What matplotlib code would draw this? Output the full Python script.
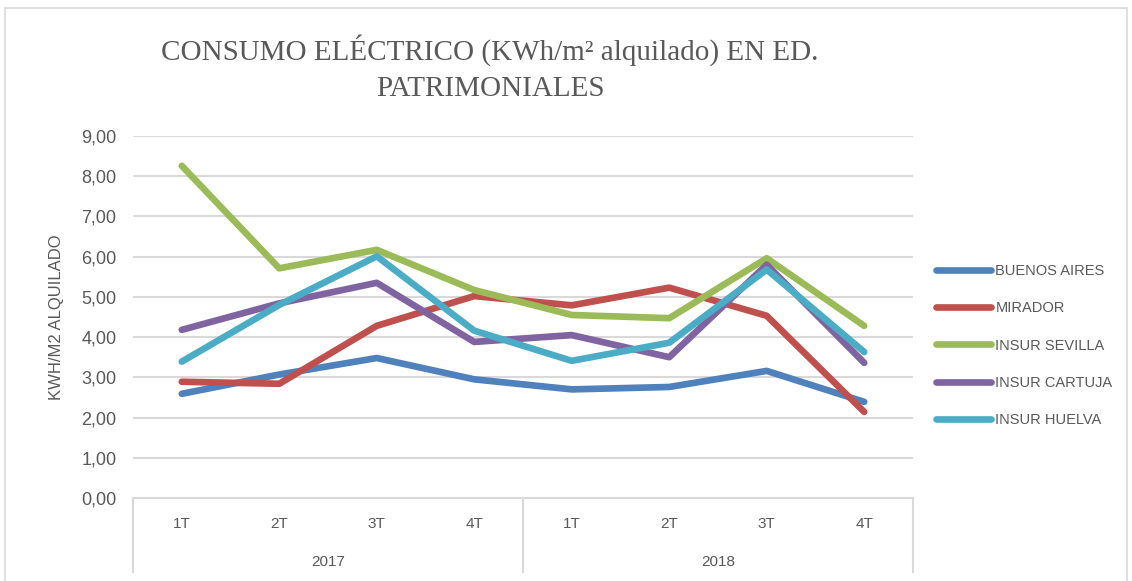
import matplotlib
import matplotlib.pyplot as plt
from matplotlib.patches import Rectangle

matplotlib.use('Agg')

# Data
quarters = ["1T", "2T", "3T", "4T", "1T", "2T", "3T", "4T"]
years = ["2017", "2018"]
buenos_aires = [2.59, 3.07, 3.48, 2.95, 2.70, 2.76, 3.16, 2.39]
mirador = [2.89, 2.84, 4.28, 5.02, 4.79, 5.23, 4.53, 2.14]
insur_sevilla = [8.26, 5.71, 6.17, 5.17, 4.55, 4.47, 5.96, 4.28]
insur_cartuja = [4.18, 4.84, 5.35, 3.88, 4.05, 3.50, 5.80, 3.36]
insur_huelva = [3.39, 4.80, 6.01, 4.16, 3.41, 3.86, 5.68, 3.63]

series = [
    ("BUENOS AIRES", buenos_aires, "#4F81BD"),
    ("MIRADOR", mirador, "#C0504D"),
    ("INSUR SEVILLA", insur_sevilla, "#9BBB59"),
    ("INSUR CARTUJA", insur_cartuja, "#8064A2"),
    ("INSUR HUELVA", insur_huelva, "#4BACC6"),
]

txt_color = "#595959"
grid_color = "#D9D9D9"

fig = plt.figure(figsize=(11.32, 5.81), dpi=100)
fig.patches.append(Rectangle((0.004, -0.02), 0.992, 1.007, transform=fig.transFigure,
                             fill=False, edgecolor="#D9D9D9", linewidth=1.2))

ax = fig.add_axes([0.1175, 0.1429, 0.689, 0.623])

x = list(range(len(quarters)))
for name, vals, col in series:
    ax.plot(x, vals, color=col, linewidth=4.8, label=name,
            solid_capstyle="round", solid_joinstyle="round")

ax.set_xlim(-0.5, len(quarters) - 0.5)
ax.set_ylim(0, 9)
ax.set_yticks([i for i in range(10)])
ax.set_yticklabels(["%d,00" % i for i in range(10)], fontsize=13, color=txt_color,
                   family="Liberation Sans")
ax.tick_params(axis="y", length=0, pad=12)
ax.yaxis.grid(True, color=grid_color, linewidth=1.5)
ax.set_axisbelow(True)
for s in ["top", "right", "left"]:
    ax.spines[s].set_visible(False)
ax.spines["bottom"].set_color(grid_color)
ax.spines["bottom"].set_linewidth(1.5)

ax.set_xticks(x)
ax.set_xticklabels(quarters, fontsize=11, color=txt_color, family="Liberation Sans")
ax.tick_params(axis="x", length=0, pad=14)

# year labels and separators of the two-level axis
trans = ax.get_xaxis_transform()
for i, yr in enumerate(years):
    ax.text(1.5 + 4 * i, -0.177, yr, transform=trans, ha="center", va="center",
            fontsize=11, color=txt_color, family="Liberation Sans")
for xs in [-0.5, 3.5, 7.5]:
    ax.plot([xs, xs], [0, -0.205], transform=trans, color=grid_color,
            linewidth=1.5, clip_on=False)

ax.set_ylabel("KWH/M2 ALQUILADO", fontsize=12, color=txt_color,
              family="Liberation Sans", labelpad=12)

fig.text(0.433, 0.913, "CONSUMO ELÉCTRICO (KWh/m² alquilado) EN ED.",
         ha="center", va="center", fontsize=21, color=txt_color,
         family="Liberation Serif")
fig.text(0.433, 0.846, "PATRIMONIALES", ha="center", va="center",
         fontsize=21, color=txt_color, family="Liberation Serif")

leg = ax.legend(loc="center left", bbox_to_anchor=(1.029, 0.421), frameon=False,
                borderaxespad=0, borderpad=0,
                handlelength=3.8, handletextpad=0.3, labelspacing=1.6,
                prop={"family": "Liberation Sans", "size": 10.5})
for t in leg.get_texts():
    t.set_color(txt_color)

fig.savefig("out.png", dpi=100)
